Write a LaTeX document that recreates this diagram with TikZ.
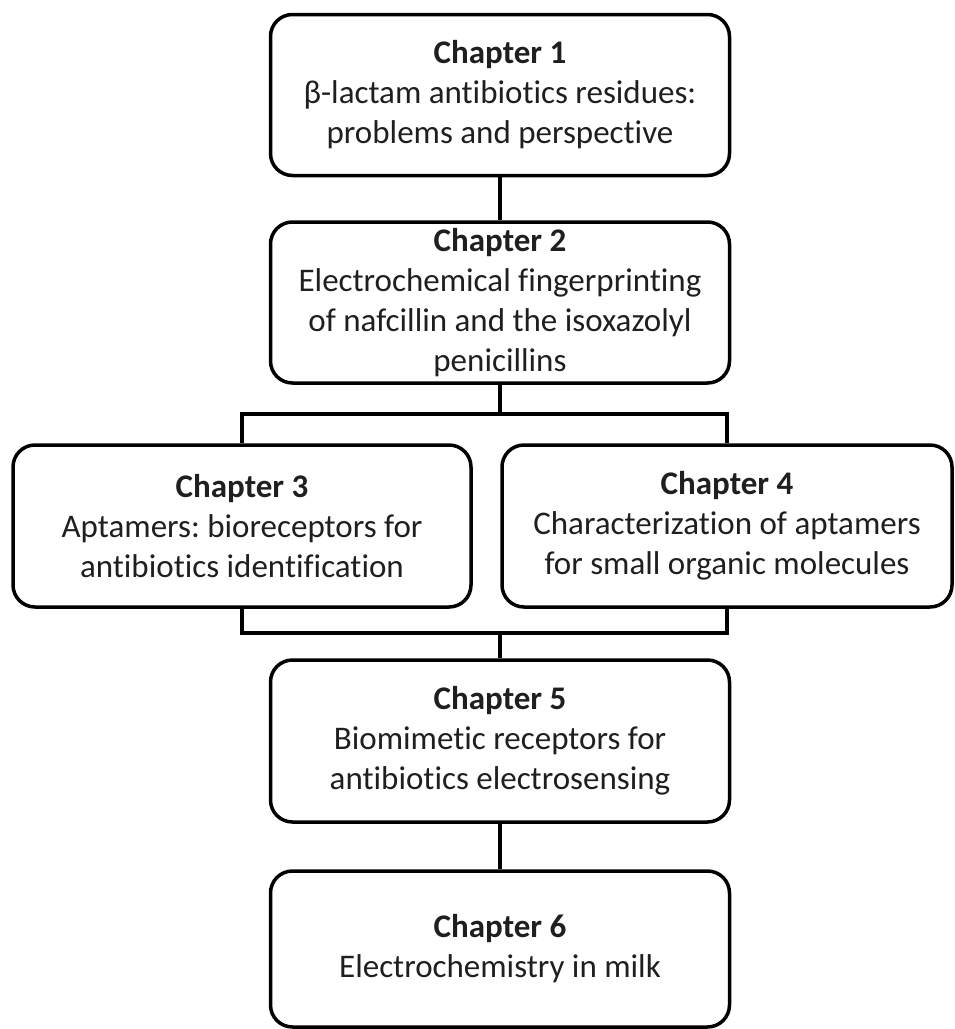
\documentclass[tikz,border=0pt]{standalone}
\usepackage{fontspec}
\setmainfont{Carlito}[Ligatures=NoCommon]
\frenchspacing
\begin{document}
\begin{tikzpicture}[x=1pt,y=1pt,line width=3.5pt,
  chapbox/.style={draw=black, rounded corners=22pt, minimum width=459pt,
    minimum height=161pt, align=center, inner sep=0pt, text=black!88,
    font=\fontsize{33}{40}\selectfont},
  link/.style={draw=black, line width=3.5pt}]
\useasboundingbox (0,0) rectangle (954,-1029);
\node[chapbox] (b1) at (500,-95) {\textbf{Chapter 1}\\β-lactam antibiotics residues:\\problems and perspective};
\node[chapbox] (b2) at (500,-302.5) {\textbf{Chapter 2}\\Electrochemical fingerprinting\\of nafcillin and the isoxazolyl\\penicillins};
\node[chapbox, minimum width=458pt, minimum height=162pt] (b3) at (242,-526) {\textbf{Chapter 3}\\Aptamers: bioreceptors for\\antibiotics identification};
\node[chapbox, minimum width=450pt, minimum height=162pt] (b4) at (727,-526) {\textbf{Chapter 4}\\Characterization of aptamers\\for small organic molecules};
\node[chapbox, minimum height=162pt] (b5) at (500,-741) {\textbf{Chapter 5}\\Biomimetic receptors for\\antibiotics electrosensing};
\node[chapbox, minimum height=156pt] (b6) at (500,-949) {\textbf{Chapter 6}\\Electrochemistry in milk};
\coordinate (top) at (500,-414);
\coordinate (bot) at (500,-633);
\draw[link] (b1.south) -- (b2.north);
\draw[link] (b2.south) -- (top);
\draw[link] (b3.north) -- (b3.north |- top) -- (b4.north |- top) -- (b4.north);
\draw[link] (b3.south) -- (b3.south |- bot) -- (b4.south |- bot) -- (b4.south);
\draw[link] (bot) -- (b5.north);
\draw[link] (b5.south) -- (b6.north);
\end{tikzpicture}
\end{document}
